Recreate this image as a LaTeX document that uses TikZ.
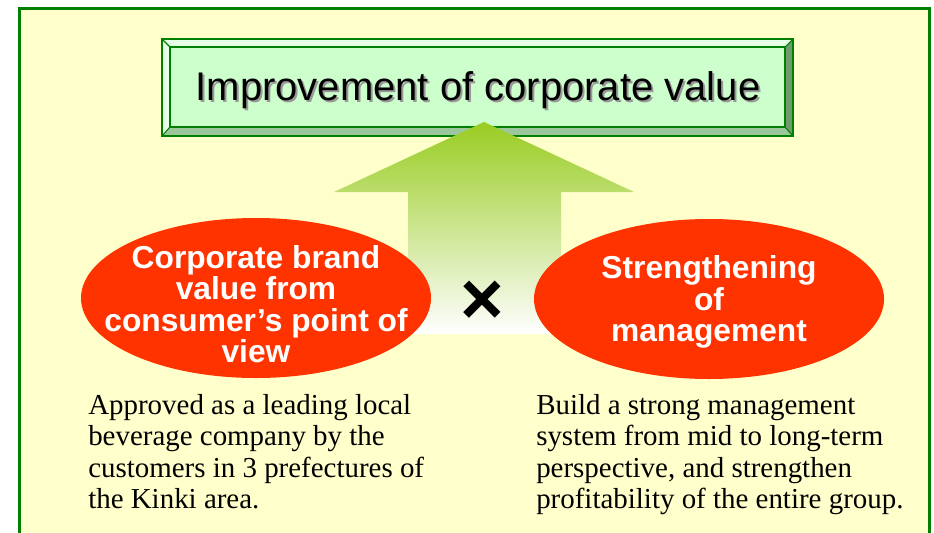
\documentclass[tikz,border=0pt]{standalone}
\usepackage{fontspec}
\setmainfont{Liberation Serif}
\setsansfont{Liberation Sans}
\usetikzlibrary{shapes.geometric,positioning}
\definecolor{paper}{HTML}{FFFFCC}
\definecolor{frame}{HTML}{008000}
\definecolor{face}{HTML}{CCFFCC}
\definecolor{bevlight}{HTML}{E6FFE6}
\definecolor{bevdark}{HTML}{6E9A6E}
\definecolor{bevlow}{HTML}{9CC79C}
\definecolor{flame}{HTML}{FF3300}
\definecolor{leaf}{HTML}{99CC22}
\tikzset{
    oval/.style={
           ellipse,
           fill=flame,
           minimum width=262.5pt,
           minimum height=120pt,
           inner sep=0pt},
    ovaltext/.style={
           text=white,
           align=center,
           inner sep=0pt,
           font=\sffamily\bfseries\fontsize{23.8pt}{23.6pt}\selectfont},
    note/.style={
           anchor=north west,
           inner sep=0pt,
           align=left,
           font=\fontsize{21.7pt}{23.5pt}\selectfont},
    bevel/.style={
           draw=frame,
           line width=0.8pt,
           line join=miter}
}

\begin{document}
\begin{tikzpicture}[x=0.75pt, y=-0.75pt]
    \useasboundingbox (0,0) rectangle (934,532);
    \clip (0,0) rectangle (934,532);
    % page and frame
    \fill[white] (0,0) rectangle (934,532);
    \filldraw[fill=paper, draw=frame, line width=2.25pt] (19.5,8.5) rectangle (929.5,560);
    % bevelled title box
    \fill[bevlight] (162,39) -- (793,39) -- (785,47) -- (170,47) -- cycle;
    \fill[bevlight] (162,39) -- (170,47) -- (170,127) -- (162,136) -- cycle;
    \fill[bevdark] (793,39) -- (793,136) -- (785,127) -- (785,47) -- cycle;
    \fill[bevlow] (162,136) -- (793,136) -- (785,127) -- (170,127) -- cycle;
    \fill[face] (170,47) rectangle (785,127);
    \draw[bevel] (162,39) rectangle (793,136);
    \draw[bevel] (170,47) rectangle (785,127);
    \draw[bevel] (162,39) -- (170,47) (793,39) -- (785,47)
                 (162,136) -- (170,127) (793,136) -- (785,127);
    \node[text=black!40, font=\sffamily\fontsize{30pt}{32pt}\selectfont] (titleshade) at (480,92) {Improvement of corporate value};
    \node[font=\sffamily\fontsize{30pt}{32pt}\selectfont] (title) at (478,90) {Improvement of corporate value};
    % upward arrow
    \shade[top color=leaf, bottom color=white] (484,122) -- (634,192) -- (561,192) -- (561,334)
          -- (408,334) -- (408,192) -- (334,192) -- cycle;
    % the two ovals
    \node[oval] (brand) at (256,298) {};
    \node[ovaltext] (brandtext) at (256,304) {Corporate brand\\value from\\consumer’s point of\\view};
    \node[oval] (mgmt) at (709,299) {};
    \node[ovaltext] (mgmttext) at (709,302) {Strengthening\\of\\management};
    \node[font=\sffamily\bfseries\fontsize{56pt}{56pt}\selectfont] (cross) at (482,303) {×};
    % notes
    \node[note] (brandnote) at (88,394) {Approved as a leading local\\beverage company by the\\customers in 3 prefectures of\\the Kinki area.};
    \node[note] (mgmtnote) at (536,394) {Build a strong management\\system from mid to long-term\\perspective, and strengthen\\profitability of the entire group.};
\end{tikzpicture}
\end{document}
